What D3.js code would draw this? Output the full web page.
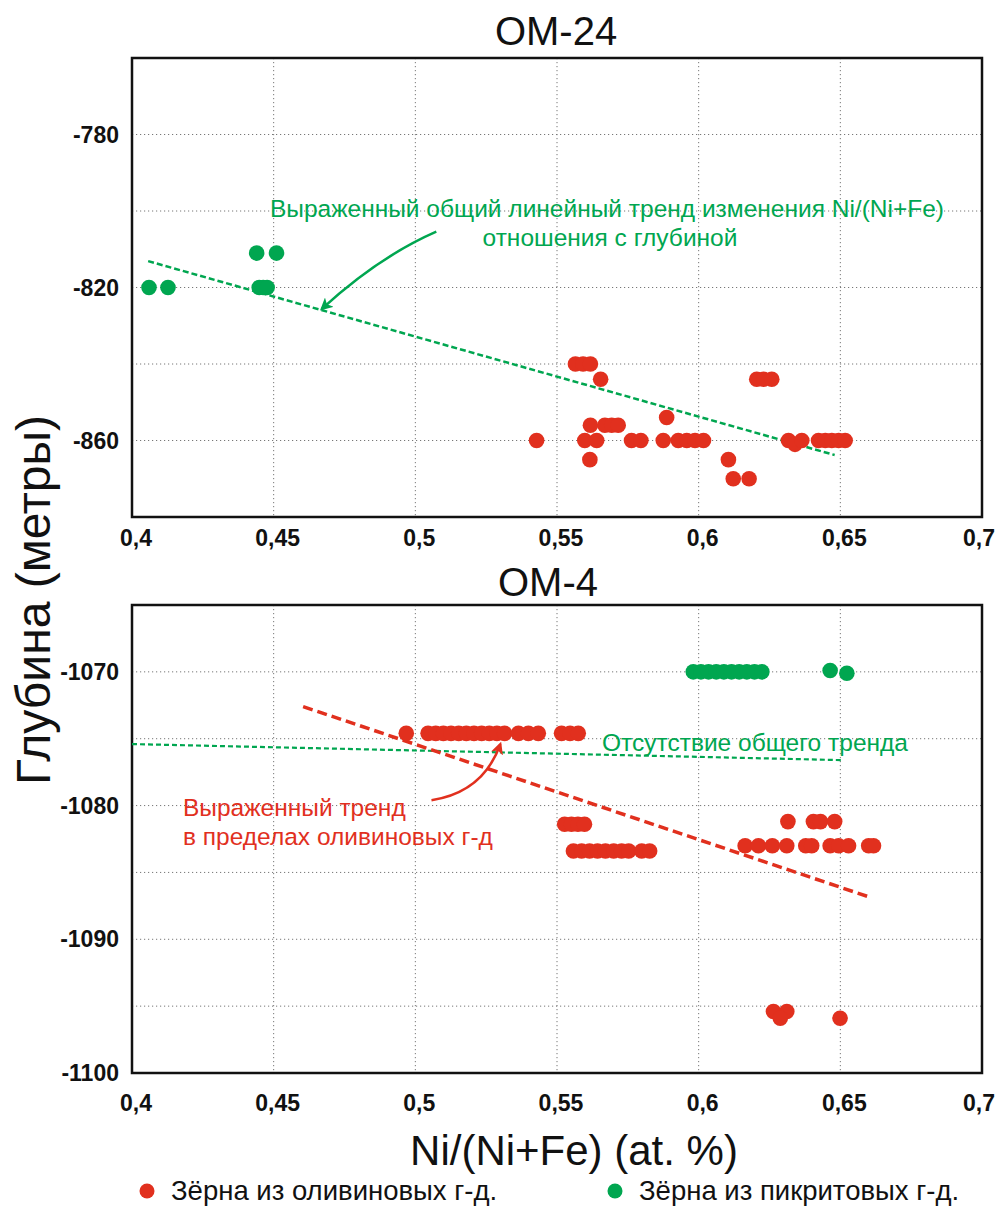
<!DOCTYPE html>
<html>
<head>
<meta charset="utf-8">
<script src="https://cdn.jsdelivr.net/npm/d3@7"></script>
<style>
  body { margin: 0; background: #fff; }
  svg text { font-family: "Liberation Sans", Arial, sans-serif; }
  .tick-label { font-weight: bold; font-size: 23px; fill: #111; }
</style>
</head>
<body>
<svg id="chart" width="1000" height="1207"></svg>
<script>
// ---- data ----
const xTicks = [0.4, 0.45, 0.5, 0.55, 0.6, 0.65, 0.7];

// OM-24
const om24Ticks = [-780, -820, -860];
const om24Grid = [-780, -800, -820, -840, -860];
const om24OlivineX = [0.5428, 0.5565, 0.5592, 0.5618, 0.5654, 0.5618, 0.5669, 0.5693, 0.5716,
    0.5598, 0.5640, 0.5616, 0.5763, 0.5796, 0.5875, 0.5887, 0.5928, 0.5958, 0.5987, 0.6017,
    0.6105, 0.6122, 0.6178, 0.6205, 0.6229, 0.6258, 0.6317, 0.6340, 0.6364,
    0.6423, 0.6447, 0.6470, 0.6494, 0.6517];
const om24OlivineY = [-860, -840, -840, -840, -844, -856, -856, -856, -856,
    -860, -860, -865, -860, -860, -860, -854, -860, -860, -860, -860,
    -865, -870, -870, -844, -844, -844, -860, -861, -860,
    -860, -860, -860, -860, -860];
const om24PicriteX = [0.4060, 0.4127, 0.4440, 0.4510, 0.4449, 0.4463, 0.4477];
const om24PicriteY = [-820, -820, -811, -811, -820, -820, -820];
const om24Trend = [[0.4057, -813.1], [0.6480, -863.8]];

// OM-4
const om4Ticks = [-1070, -1080, -1090, -1100];
const om4Grid = [-1070, -1075, -1080, -1085, -1090, -1095, -1100];
const om4OlivineX = [0.4968, 0.5045, 0.5072, 0.5099, 0.5126, 0.5153, 0.5180, 0.5207, 0.5234,
    0.5261, 0.5288, 0.5315, 0.5364, 0.5399, 0.5434, 0.5516, 0.5546, 0.5575,
    0.5527, 0.5551, 0.5574, 0.5597,
    0.5558, 0.5587, 0.5615, 0.5643, 0.5671, 0.5700, 0.5728, 0.5753, 0.5799, 0.5827,
    0.6315, 0.6405, 0.6430, 0.6480,
    0.6164, 0.6211, 0.6260, 0.6311, 0.6378, 0.6399, 0.6464, 0.6494, 0.6529, 0.6600, 0.6617,
    0.6264, 0.6311, 0.6288, 0.6499];
const om4OlivineY = [-1074.6, -1074.6, -1074.6, -1074.6, -1074.6, -1074.6, -1074.6, -1074.6, -1074.6,
    -1074.6, -1074.6, -1074.6, -1074.6, -1074.6, -1074.6, -1074.6, -1074.6, -1074.6,
    -1081.4, -1081.4, -1081.4, -1081.4,
    -1083.4, -1083.4, -1083.4, -1083.4, -1083.4, -1083.4, -1083.4, -1083.4, -1083.4, -1083.4,
    -1081.2, -1081.2, -1081.2, -1081.2,
    -1083.0, -1083.0, -1083.0, -1083.0, -1083.0, -1083.0, -1083.0, -1083.0, -1083.0, -1083.0, -1083.0,
    -1095.4, -1095.4, -1095.9, -1095.9];
const om4PicriteX = [0.5981, 0.6008, 0.6035, 0.6062, 0.6089, 0.6116, 0.6143, 0.6170, 0.6197, 0.6223,
    0.6464, 0.6523];
const om4PicriteY = [-1070, -1070, -1070, -1070, -1070, -1070, -1070, -1070, -1070, -1070,
    -1069.9, -1070.1];
const om4OlivineTrend = [[0.4604, -1072.6], [0.6611, -1086.9]];
const om4PicriteTrend = [[0.4, -1075.4], [0.6505, -1076.6]];

const RED = "#e1301e";
const GREEN = "#00a650";

const svg = d3.select("#chart");
const x = d3.scaleLinear().domain([0.4, 0.7]).range([132, 982]);
const fmt = d => String(d).replace(".", ",");

function drawPanel(cfg) {
    const y = d3.scaleLinear().domain(cfg.yDomain).range(cfg.yRange);
    const g = svg.append("g");
    const [top, bottom] = cfg.yRange;

    // grid
    g.append("g").selectAll("line").data(cfg.grid).enter().append("line")
        .attr("x1", x.range()[0]).attr("x2", x.range()[1])
        .attr("y1", d => y(d)).attr("y2", d => y(d))
        .attr("stroke", "#777").attr("stroke-width", 1).attr("stroke-dasharray", "1.2,2.8");
    g.append("g").selectAll("line").data(xTicks.slice(1, -1)).enter().append("line")
        .attr("x1", d => x(d)).attr("x2", d => x(d))
        .attr("y1", top).attr("y2", bottom)
        .attr("stroke", "#777").attr("stroke-width", 1).attr("stroke-dasharray", "1.2,2.8");

    // frame
    g.append("rect")
        .attr("x", x.range()[0]).attr("y", top)
        .attr("width", x.range()[1] - x.range()[0]).attr("height", bottom - top)
        .attr("fill", "none").attr("stroke", "#111").attr("stroke-width", 2.5);

    // tick labels
    g.append("g").selectAll("text").data(cfg.ticks).enter().append("text")
        .attr("class", "tick-label")
        .attr("x", 119).attr("y", d => y(d) + 8)
        .attr("text-anchor", "end")
        .text(d => d);
    g.append("g").selectAll("text").data(xTicks).enter().append("text")
        .attr("class", "tick-label")
        .attr("x", (d, i) => i === xTicks.length - 1 ? x(d) - 3 : x(d) + 4)
        .attr("y", cfg.labelY)
        .attr("text-anchor", "middle")
        .text(fmt);

    // trends
    const line = d3.line().x(d => x(d[0])).y(d => y(d[1]));
    cfg.trends.forEach(t => {
        g.append("path").attr("d", line(t.pts))
            .attr("fill", "none").attr("stroke", t.color)
            .attr("stroke-width", t.width).attr("stroke-dasharray", t.dash);
    });

    // points
    const addPoints = (xs, ys, color) => g.append("g").selectAll("circle")
        .data(xs.map((v, i) => [v, ys[i]])).enter().append("circle")
        .attr("cx", d => x(d[0])).attr("cy", d => y(d[1]))
        .attr("r", 7.8).attr("fill", color);
    addPoints(cfg.picX, cfg.picY, GREEN);
    addPoints(cfg.olX, cfg.olY, RED);

    // title
    svg.append("text")
        .attr("x", cfg.titleX).attr("y", cfg.titleY)
        .attr("text-anchor", "middle")
        .attr("font-size", 40).attr("fill", "#111")
        .text(cfg.title);

    return y;
}

function addArrow(pts, color, id, ys) {
    svg.append("defs").append("marker")
        .attr("id", id).attr("viewBox", "0 0 10 10")
        .attr("refX", 8).attr("refY", 5)
        .attr("markerWidth", 5).attr("markerHeight", 5)
        .attr("orient", "auto")
        .append("path").attr("d", "M0,0 L10,5 L0,10 L2.5,5 Z").attr("fill", color);
    const p = pts.map(d => [x(d[0]), ys(d[1])]);
    svg.append("path")
        .attr("d", `M${p[0][0]},${p[0][1]} Q${p[1][0]},${p[1][1]} ${p[2][0]},${p[2][1]}`)
        .attr("fill", "none").attr("stroke", color).attr("stroke-width", 2.5)
        .attr("marker-end", `url(#${id})`);
}

const yTop = drawPanel({
    title: "ОМ-24", titleX: 556, titleY: 45,
    yDomain: [-760, -880], yRange: [58, 517], labelY: 546,
    grid: om24Grid, ticks: om24Ticks,
    olX: om24OlivineX, olY: om24OlivineY,
    picX: om24PicriteX, picY: om24PicriteY,
    trends: [{pts: om24Trend, color: GREEN, width: 2.5, dash: "6,3"}]
});

const yBot = drawPanel({
    title: "ОМ-4", titleX: 548, titleY: 596,
    yDomain: [-1065, -1100], yRange: [605, 1073], labelY: 1111,
    grid: om4Grid, ticks: om4Ticks,
    olX: om4OlivineX, olY: om4OlivineY,
    picX: om4PicriteX, picY: om4PicriteY,
    trends: [
        {pts: om4PicriteTrend, color: GREEN, width: 2.2, dash: "5,3"},
        {pts: om4OlivineTrend, color: RED, width: 3.5, dash: "10,5"}
    ]
});

// annotations
const noteTop = svg.append("g").attr("fill", GREEN).attr("font-size", 24.5).attr("text-anchor", "middle");
noteTop.append("text").attr("x", 607).attr("y", 217).text("Выраженный общий линейный тренд изменения Ni/(Ni+Fe)");
noteTop.append("text").attr("x", 610).attr("y", 246).text("отношения с глубиной");
addArrow([[0.5074, -805.4], [0.487, -812], [0.4670, -825.6]], GREEN, "arrowG", yTop);

svg.append("text").attr("x", 602).attr("y", 751).attr("fill", GREEN).attr("font-size", 24.5)
    .text("Отсутствие общего тренда");
const noteBot = svg.append("g").attr("fill", RED).attr("font-size", 24.5);
noteBot.append("text").attr("x", 183).attr("y", 816).text("Выраженный тренд");
noteBot.append("text").attr("x", 183).attr("y", 845).text("в пределах оливиновых г-д");
addArrow([[0.5057, -1079.6], [0.5240, -1079.0], [0.5300, -1075.4]], RED, "arrowR", yBot);

// axis titles
svg.append("text")
    .attr("transform", "translate(50,600) rotate(-90)")
    .attr("text-anchor", "middle").attr("font-size", 48).attr("fill", "#111")
    .text("Глубина (метры)");
svg.append("text")
    .attr("x", 574).attr("y", 1165)
    .attr("text-anchor", "middle").attr("font-size", 42).attr("fill", "#111")
    .text("Ni/(Ni+Fe) (at. %)");

// legend
const legend = [
    {label: "Зёрна из оливиновых г-д.", color: RED, x: 147},
    {label: "Зёрна из пикритовых г-д.", color: GREEN, x: 615}
];
const lg = svg.append("g").selectAll("g").data(legend).enter().append("g");
lg.append("circle").attr("cx", d => d.x).attr("cy", 1191).attr("r", 7.5).attr("fill", d => d.color);
lg.append("text").attr("x", d => d.x + 24).attr("y", 1200)
    .attr("font-size", 27.5).attr("fill", "#111").text(d => d.label);
</script>
</body>
</html>
